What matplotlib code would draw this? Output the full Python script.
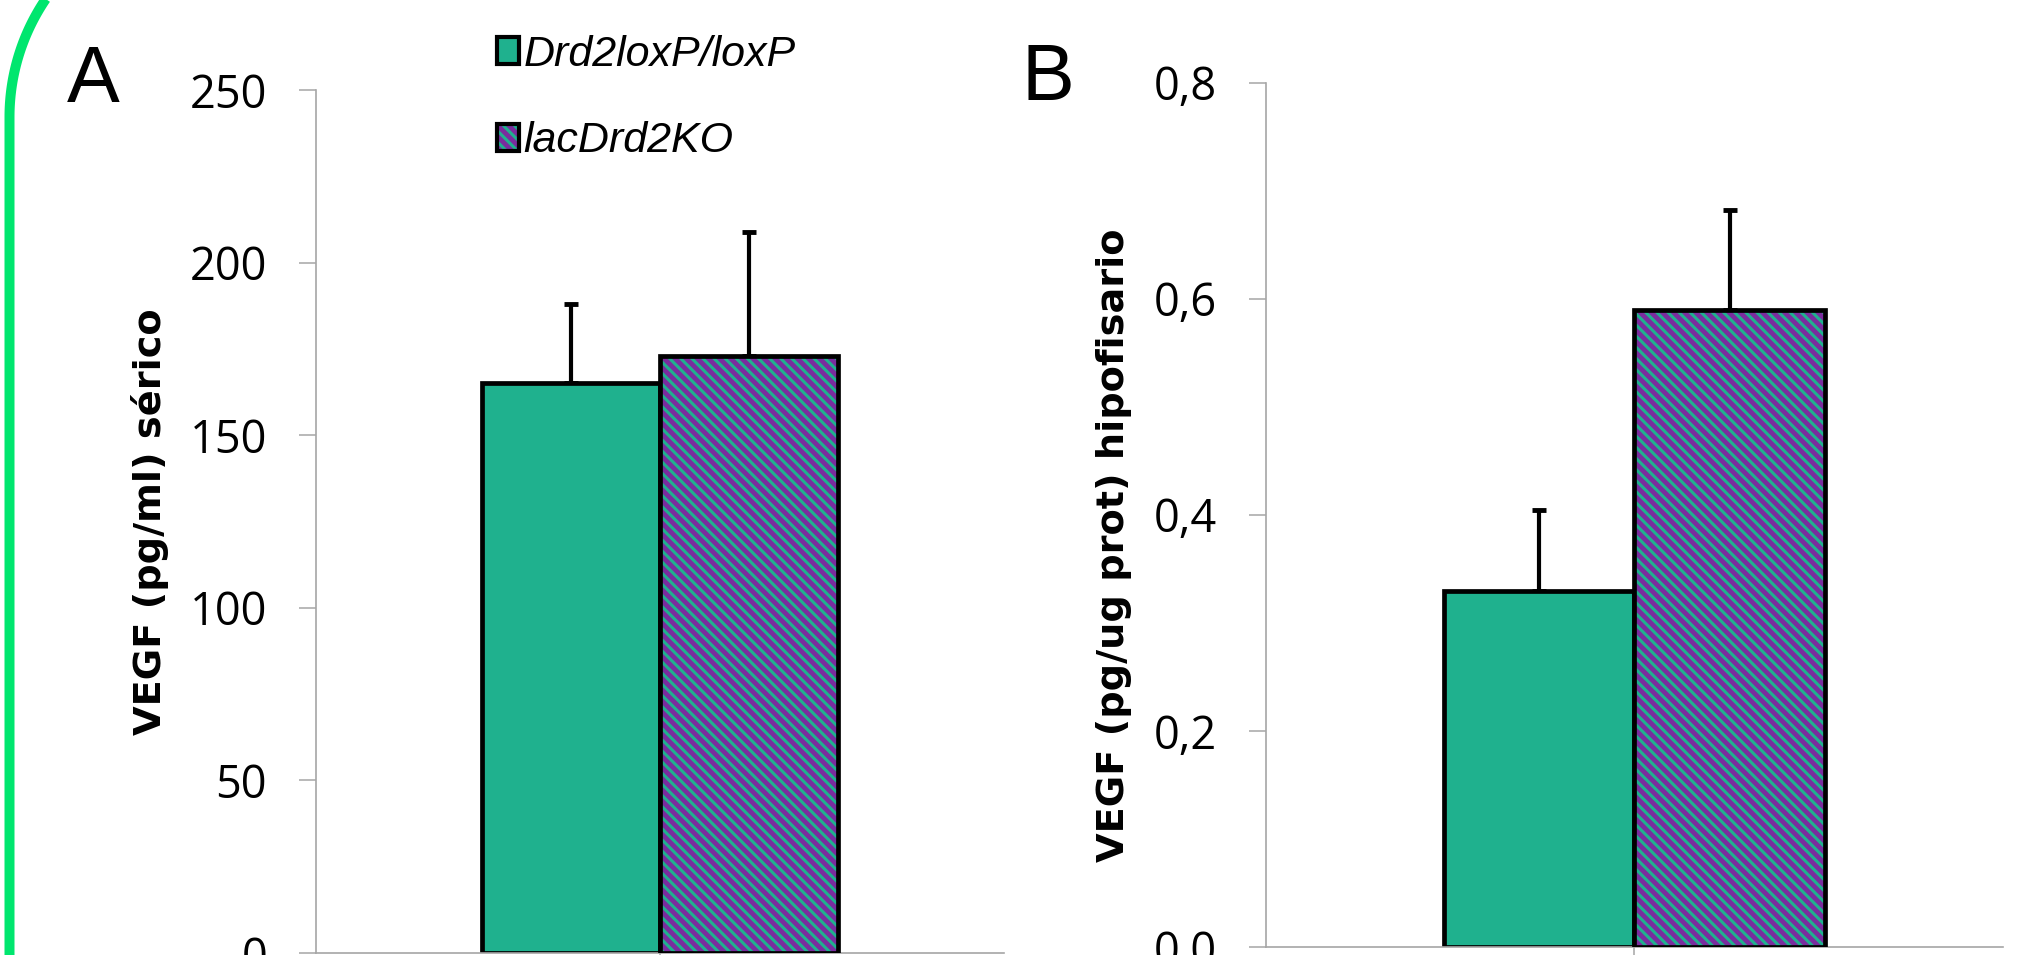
import numpy as np
import matplotlib.pyplot as plt
from matplotlib.patches import Patch
from matplotlib.lines import Line2D
from matplotlib.ticker import FuncFormatter

# data
groups = ["Drd2loxP/loxP", "lacDrd2KO"]
serum_vegf = [165, 173]
serum_err = [23, 36]
pit_vegf = [0.33, 0.59]
pit_err = [0.075, 0.092]
serum_ticks = [0, 50, 100, 150, 200, 250]
pit_ticks = [0.0, 0.2, 0.4, 0.6, 0.8]

TEAL = "#1FB18E"
PURPLE = "#7A2C9E"
GRAY = "#A6A6A6"
HATCH = "\\\\\\"

plt.rcParams['font.family'] = ['Open Sans', 'DejaVu Sans']
plt.rcParams['hatch.linewidth'] = 2.2

W, H = 2031, 955
fig = plt.figure(figsize=(W / 100, H / 100), dpi=100)


def px_axes(left, top, right, bottom):
    return fig.add_axes([left / W, 1 - bottom / H, (right - left) / W, (bottom - top) / H])


def draw_panel(ax, vals, errs, ticks, fmt, ylabel, label_xy):
    w = 0.258
    xs = [-w / 2, w / 2]
    for i, (x, v) in enumerate(zip(xs, vals)):
        if i == 0:
            ax.bar(x, v, w, color=TEAL, edgecolor="black", linewidth=3.4, zorder=2)
        else:
            ax.bar(x, v, w, color=PURPLE, edgecolor=TEAL, linewidth=0, hatch=HATCH, zorder=2)
            ax.bar(x, v, w, color="none", edgecolor="black", linewidth=3.4, zorder=3)
    ax.errorbar(xs, vals, yerr=[[0] * len(errs), errs], fmt="none", ecolor="black",
                elinewidth=3, capsize=5, capthick=3.5, zorder=1)

    ax.set_xlim(-0.5, 0.5)
    ax.set_ylim(ticks[0], ticks[-1])
    ax.set_yticks(ticks)
    ax.yaxis.set_major_formatter(FuncFormatter(fmt))
    ax.set_xticks([0])
    ax.set_xticklabels([""])
    for s in ["top", "right"]:
        ax.spines[s].set_visible(False)
    for s in ["left", "bottom"]:
        ax.spines[s].set_color(GRAY)
        ax.spines[s].set_linewidth(1.2)
    ax.tick_params(axis="both", direction="out", length=12.2, width=1.1, color=GRAY)
    ax.tick_params(axis="y", labelsize=32.5, pad=23)
    ax.set_ylabel(ylabel, fontfamily="DejaVu Sans", fontweight="bold", fontsize=27.5, va="center")
    ax.yaxis.set_label_coords(*label_xy)


axA = px_axes(316, 90, 1004, 953)
axB = px_axes(1266, 83, 2003, 947)

draw_panel(axA, serum_vegf, serum_err, serum_ticks, lambda v, p: f"{v:.0f}",
           "VEGF (pg/ml) sérico", (-0.241, 0.50))
draw_panel(axB, pit_vegf, pit_err, pit_ticks, lambda v, p: f"{v:.1f}".replace(".", ","),
           "VEGF (pg/ug prot) hipofisario", (-0.206, 0.465))

# panel letters
fig.text(67 / W, 1 - 102 / H, "A", fontfamily="Liberation Sans", fontsize=57, va="baseline", ha="left")
fig.text(1021 / W, 1 - 100 / H, "B", fontfamily="Liberation Sans", fontsize=57, va="baseline", ha="left")

# legend
handles = [
    Patch(facecolor=TEAL, edgecolor="black", linewidth=3),
    (Patch(facecolor=PURPLE, edgecolor=TEAL, linewidth=0, hatch=HATCH),
     Patch(facecolor="none", edgecolor="black", linewidth=3)),
]
fig.legend(handles, groups, loc="upper left", bbox_to_anchor=(497 / W, 1 - 35 / H),
           frameon=False, borderpad=0, borderaxespad=0, handlelength=0.52, handleheight=0.6,
           handletextpad=0.1, labelspacing=1.08,
           prop={"family": "Liberation Sans", "style": "italic", "size": 31})

# green rounded border on the left
R, cx, cy = 210, 9.5 + 210, 117
t = np.linspace(np.radians(139), np.pi, 60)
bx = np.concatenate([cx + R * np.cos(t), [9.5]])
by = np.concatenate([cy - R * np.sin(t), [H + 10]])
fig.add_artist(Line2D(bx / W, 1 - by / H, transform=fig.transFigure, color="#00E66E",
                      linewidth=7.2, solid_capstyle="butt", clip_on=False))

fig.savefig("out.png", dpi=100)
